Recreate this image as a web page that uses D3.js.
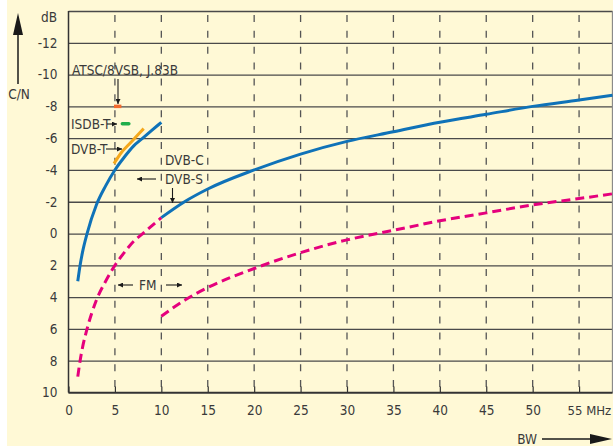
<!DOCTYPE html>
<html>
<head>
<meta charset="utf-8">
<script src="https://cdn.jsdelivr.net/npm/d3@7"></script>
<style>
  body { margin: 0; background: #ffffff; }
  svg text { font-family: "Liberation Sans Narrow", "DejaVu Sans Condensed", "Liberation Sans", sans-serif; fill: #3a3a3a; }
</style>
</head>
<body>
<div id="chart"></div>
<script>
// chart values
const yTicks = [-12, -10, -8, -6, -4, -2, 0, 2, 4, 6, 8, 10];
const xTicks = [0, 5, 10, 15, 20, 25, 30, 35, 40, 45, 50, 55];
const xTickLabels = ["0", "5", "10", "15", "20", "25", "30", "35", "40", "45", "50", "55 MHz"];

const bwLow = [1, 1.25, 1.5, 2, 3, 4, 5, 6, 7, 8, 9, 10];
const dvbTerr = [3.0, 2.0, 1.2, 0.0, -1.8, -3.0, -4.0, -4.8, -5.5, -6.0, -6.5, -7.0];
const fmLow = [9.0, 8.0, 7.2, 6.0, 4.2, 3.0, 2.0, 1.2, 0.5, 0.0, -0.5, -1.0];

const bwHigh = [10, 12.5, 15, 20, 25, 30, 35, 40, 45, 50, 55, 58.6];
const dvbSat = [-1.0, -2.0, -2.8, -4.0, -5.0, -5.8, -6.4, -7.0, -7.5, -8.0, -8.4, -8.7];
const fmHigh = [5.2, 4.2, 3.4, 2.2, 1.2, 0.4, -0.2, -0.8, -1.3, -1.8, -2.2, -2.5];

const dvbtBw = [4.9, 5.7, 6.5, 7.3, 8.1];
const dvbtCn = [-4.4, -5.1, -5.6, -6.1, -6.6];
const atscBw = [4.9, 5.7];
const atscCn = [-8.0, -8.0];
const isdbBw = [5.8, 6.5];
const isdbCn = [-6.9, -6.9];

const width = 613, height = 448;
const pLeft = 68.5, pRight = 612.5, pTop = 11, pBottom = 392.5;

const svg = d3.select("#chart").append("svg")
    .attr("width", width)
    .attr("height", height);

const defs = svg.append("defs");
defs.append("marker")
    .attr("id", "tip")
    .attr("viewBox", "0 0 10 10")
    .attr("refX", 10).attr("refY", 5)
    .attr("markerWidth", 5).attr("markerHeight", 5)
    .attr("markerUnits", "userSpaceOnUse")
    .attr("orient", "auto")
  .append("path")
    .attr("d", "M0,0L10,5L0,10Z")
    .attr("fill", "#1a1a1a");

// background panel
svg.append("rect")
    .attr("x", 7).attr("y", 0)
    .attr("width", width - 7).attr("height", 446)
    .attr("fill", "#fff9d6");

const x = d3.scaleLinear().domain([0, 58.6]).range([pLeft, pRight]);
const y = d3.scaleLinear().domain([-14, 10]).range([pTop, pBottom]);

// horizontal grid + y labels
const yAxis = svg.append("g")
    .attr("transform", `translate(${pLeft},0)`)
    .call(d3.axisLeft(y).tickValues(yTicks.concat([-14])).tickSize(-(pRight - pLeft)).tickFormat(d => d === -14 ? "" : d));
yAxis.select(".domain").remove();
yAxis.selectAll(".tick line").attr("stroke", "#4a4a4a").attr("stroke-width", 1.3);
yAxis.selectAll(".tick text").attr("x", -11).attr("font-size", 13.5);

svg.append("text")
    .attr("x", 57).attr("y", 17).attr("dy", "0.35em")
    .attr("text-anchor", "end")
    .attr("font-size", 13.5)
    .text("dB");

// vertical dashed grid
svg.append("g")
  .selectAll("line")
  .data(xTicks.slice(1).concat([58.6]))
  .join("line")
    .attr("x1", d => x(d)).attr("x2", d => x(d))
    .attr("y1", pTop).attr("y2", pBottom)
    .attr("stroke", d => d === 58.6 ? "#8a8a8a" : "#555")
    .attr("stroke-width", 1.3)
    .attr("stroke-dasharray", d => d === 58.6 ? null : "7,8.87")
    .attr("stroke-dashoffset", -4);

// x axis
const xAxis = svg.append("g")
    .attr("transform", `translate(0,${pBottom})`)
    .call(d3.axisBottom(x).tickValues(xTicks).tickSize(-6).tickPadding(13)
      .tickFormat((d, i) => xTickLabels[i]));
xAxis.select(".domain").remove();
xAxis.selectAll(".tick line").attr("stroke", "#333").attr("stroke-width", 1.2);
xAxis.selectAll(".tick text").attr("font-size", 13.5);
xAxis.selectAll(".tick").filter(d => d === 55).select("text")
    .attr("text-anchor", "start").attr("x", -12).attr("font-size", 13);

// axis lines
svg.append("line")
    .attr("x1", pLeft).attr("x2", pRight).attr("y1", pBottom).attr("y2", pBottom)
    .attr("stroke", "#333").attr("stroke-width", 1.5);
svg.append("line")
    .attr("x1", pLeft).attr("x2", pLeft).attr("y1", pTop).attr("y2", pBottom)
    .attr("stroke", "#333").attr("stroke-width", 1.5);

// curves
const line = d3.line().x(d => x(d[0])).y(d => y(d[1])).curve(d3.curveMonotoneX);
const pairs = (a, b) => a.map((v, i) => [v, b[i]]);

svg.append("path").datum(pairs(bwLow, fmLow))
    .attr("d", line).attr("fill", "none")
    .attr("stroke", "#e5007d").attr("stroke-width", 3)
    .attr("stroke-dasharray", "9,5");
svg.append("path").datum(pairs(bwHigh, fmHigh))
    .attr("d", line).attr("fill", "none")
    .attr("stroke", "#e5007d").attr("stroke-width", 3)
    .attr("stroke-dasharray", "9,5");
svg.append("path").datum(pairs(bwLow, dvbTerr))
    .attr("d", line).attr("fill", "none")
    .attr("stroke", "#0f72b8").attr("stroke-width", 3);
svg.append("path").datum(pairs(bwHigh, dvbSat))
    .attr("d", line).attr("fill", "none")
    .attr("stroke", "#0f72b8").attr("stroke-width", 3);
svg.append("path").datum(pairs(dvbtBw, dvbtCn))
    .attr("d", line).attr("fill", "none")
    .attr("stroke", "#f5a81c").attr("stroke-width", 3);
svg.append("path").datum(pairs(atscBw, atscCn))
    .attr("d", line).attr("fill", "none")
    .attr("stroke", "#f26a2e").attr("stroke-width", 3.5);
svg.append("path").datum(pairs(isdbBw, isdbCn))
    .attr("d", line).attr("fill", "none")
    .attr("stroke", "#1fae4b").attr("stroke-width", 3.5)
    .attr("stroke-linecap", "round");

// annotations
const ann = svg.append("g").attr("font-size", 13.5);
function label(tx, ty, s) {
  ann.append("text").attr("x", tx).attr("y", ty).attr("dy", "0.35em").text(s);
}
function arrow(x1, y1, x2, y2) {
  ann.append("line")
      .attr("x1", x1).attr("y1", y1).attr("x2", x2).attr("y2", y2)
      .attr("stroke", "#1a1a1a").attr("stroke-width", 1.1)
      .attr("marker-end", "url(#tip)");
}
label(72, 70, "ATSC/8VSB, J.83B");
arrow(118, 79, 118, 104);
label(71, 124, "ISDB-T");
arrow(107, 124, 117, 124);
label(71, 149, "DVB-T");
arrow(106, 149, 122, 149);
label(165, 160, "DVB-C");
label(165, 179, "DVB-S");
arrow(156, 179, 137, 179);
arrow(172.5, 188, 172.5, 203);
label(139, 285, "FM");
arrow(133, 285, 118, 285);
arrow(166, 285, 182, 285);

// axis titles with big arrows
svg.append("line")
    .attr("x1", 18).attr("x2", 18).attr("y1", 84).attr("y2", 30)
    .attr("stroke", "#1a1a1a").attr("stroke-width", 1.5);
svg.append("path")
    .attr("d", "M18,13L23,35L13,35Z").attr("fill", "#1a1a1a");
svg.append("text")
    .attr("x", 19).attr("y", 94).attr("dy", "0.35em")
    .attr("text-anchor", "middle").attr("font-size", 13.5)
    .text("C/N");

svg.append("line")
    .attr("x1", 542).attr("x2", 595).attr("y1", 439).attr("y2", 439)
    .attr("stroke", "#1a1a1a").attr("stroke-width", 1.5);
svg.append("path")
    .attr("d", "M612,439L590,434L590,444Z").attr("fill", "#1a1a1a");
svg.append("text")
    .attr("x", 537).attr("y", 439).attr("dy", "0.35em")
    .attr("text-anchor", "end").attr("font-size", 13.5)
    .text("BW");
</script>
</body>
</html>
